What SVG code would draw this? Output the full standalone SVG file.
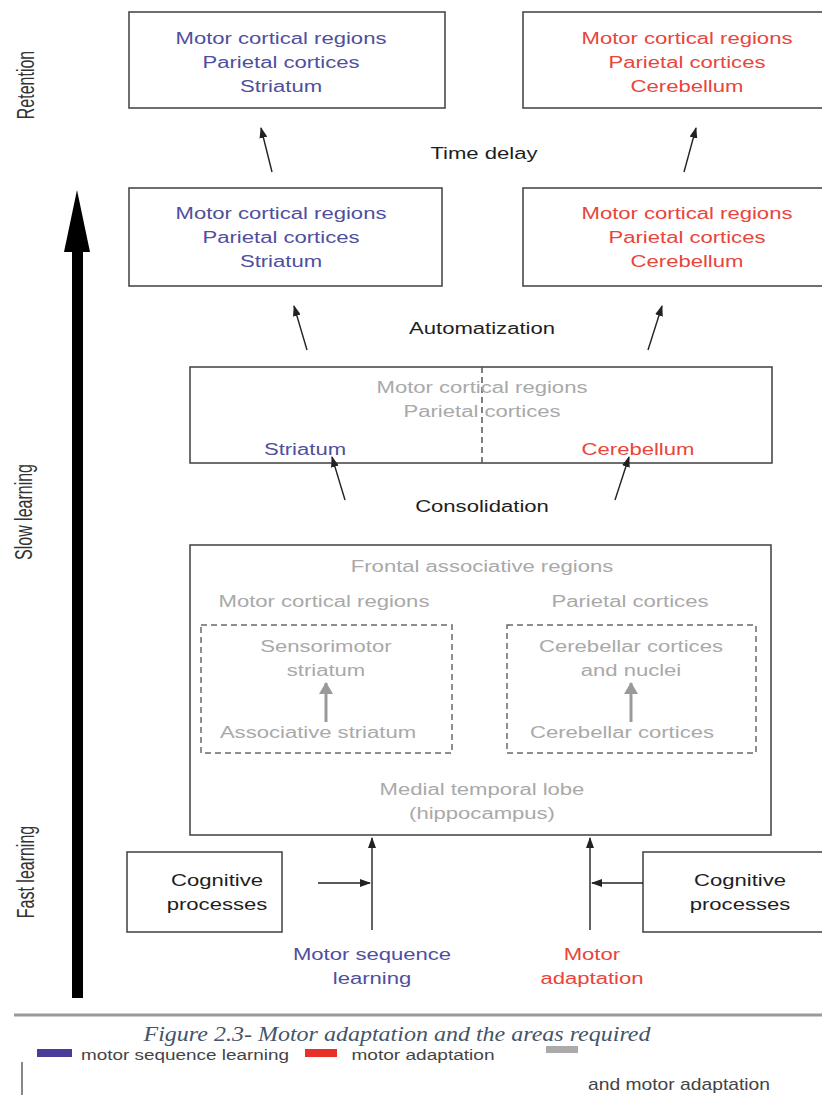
<svg xmlns="http://www.w3.org/2000/svg" width="822" height="1095" viewBox="0 0 822 1095">
<style>
text{font-family:"Liberation Sans",Arial,sans-serif;font-size:16px;text-anchor:middle}
.s{transform-box:fill-box;transform-origin:center;transform:scaleX(1.38)}
.b{fill:#4f4f9e}
.r{fill:#e8453c}
.g{fill:#a9a9a9}
.k{fill:#1e1e1e}
.side{fill:#333;font-size:16px}
.leg{fill:#444;font-size:14px}
.box{fill:#fff;stroke:#4a4a4a;stroke-width:1.6}
.dbox{fill:none;stroke:#6a6a6a;stroke-width:1.5;stroke-dasharray:6 4}
.con{stroke:#222;stroke-width:1.4;fill:none;marker-end:url(#ah)}
.gcon{stroke:#9a9a9a;stroke-width:3;fill:none;marker-end:url(#gh)}
</style>
<defs>
<marker id="ah" markerUnits="userSpaceOnUse" markerWidth="11" markerHeight="8" refX="10" refY="4" orient="auto"><path d="M0,0 L11,4 L0,8 Z" fill="#222"/></marker>
<marker id="gh" markerUnits="userSpaceOnUse" markerWidth="12" markerHeight="14" refX="11" refY="7" orient="auto"><path d="M0,0 L12,7 L0,14 Z" fill="#9a9a9a"/></marker>
</defs>
<rect width="822" height="1095" fill="#fff"/>

<!-- side labels -->
<g id="axis">
<rect x="72" y="250" width="11" height="748" fill="#000"/>
<polygon points="64,252 77,190 90,252" fill="#000"/>
<text class="side" transform="translate(34,85) rotate(-90) scale(1,1.5)">Retention</text>
<text class="side" transform="translate(32,512) rotate(-90) scale(1,1.5)">Slow learning</text>
<text class="side" transform="translate(34,872) rotate(-90) scale(1,1.5)">Fast learning</text>
</g>

<g id="ret-seq">
<rect class="box" x="129" y="12" width="316" height="96"/>
<text class="s b" x="281" y="44">Motor cortical regions</text>
<text class="s b" x="281" y="68">Parietal cortices</text>
<text class="s b" x="281" y="92">Striatum</text>
</g>
<g id="ret-adapt">
<rect class="box" x="523" y="12" width="320" height="96"/>
<text class="s r" x="687" y="44">Motor cortical regions</text>
<text class="s r" x="687" y="68">Parietal cortices</text>
<text class="s r" x="687" y="92">Cerebellum</text>
</g>

<g id="auto-seq">
<rect class="box" x="129" y="188" width="313" height="98"/>
<text class="s b" x="281" y="219">Motor cortical regions</text>
<text class="s b" x="281" y="243">Parietal cortices</text>
<text class="s b" x="281" y="267">Striatum</text>
</g>
<g id="auto-adapt">
<rect class="box" x="523" y="188" width="320" height="98"/>
<text class="s r" x="687" y="219">Motor cortical regions</text>
<text class="s r" x="687" y="243">Parietal cortices</text>
<text class="s r" x="687" y="267">Cerebellum</text>
</g>

<g id="consolidated">
<rect class="box" x="190" y="367" width="582" height="96"/>
<line x1="482" y1="367" x2="482" y2="463" stroke="#555" stroke-width="1.5" stroke-dasharray="6 4"/>
<text class="s g" x="482" y="393">Motor cortical regions</text>
<text class="s g" x="482" y="417">Parietal cortices</text>
<text class="s b" x="305" y="455">Striatum</text>
<text class="s r" x="638" y="455">Cerebellum</text>
</g>

<g id="fast">
<rect class="box" x="190" y="545" width="581" height="290"/>
<text class="s g" x="482" y="572">Frontal associative regions</text>
<text class="s g" x="324" y="607">Motor cortical regions</text>
<text class="s g" x="630" y="607">Parietal cortices</text>
<text class="s g" x="482" y="795">Medial temporal lobe</text>
<text class="s g" x="482" y="819">(hippocampus)</text>
</g>
<g id="striatum-box">
<rect class="dbox" x="201" y="625" width="251" height="128"/>
<text class="s g" x="326" y="652">Sensorimotor</text>
<text class="s g" x="326" y="676">striatum</text>
<text class="s g" x="318" y="738">Associative striatum</text>
</g>
<g id="cerebellum-box">
<rect class="dbox" x="507" y="625" width="249" height="128"/>
<text class="s g" x="631" y="652">Cerebellar cortices</text>
<text class="s g" x="631" y="676">and nuclei</text>
<text class="s g" x="622" y="738">Cerebellar cortices</text>
</g>

<g id="cog-left">
<rect class="box" x="127" y="852" width="155" height="80"/>
<text class="s k" x="217" y="886">Cognitive</text>
<text class="s k" x="217" y="910">processes</text>
</g>
<g id="cog-right">
<rect class="box" x="643" y="852" width="200" height="80"/>
<text class="s k" x="740" y="886">Cognitive</text>
<text class="s k" x="740" y="910">processes</text>
</g>

<g id="inputs">
<text class="s b" x="372" y="960">Motor sequence</text>
<text class="s b" x="372" y="984">learning</text>
<text class="s r" x="592" y="960">Motor</text>
<text class="s r" x="592" y="984">adaptation</text>
</g>

<g id="stage-labels">
<text class="s k" x="484" y="159">Time delay</text>
<text class="s k" x="482" y="334">Automatization</text>
<text class="s k" x="482" y="512">Consolidation</text>
</g>

<g id="connectors">
<line class="con" x1="272" y1="172" x2="261" y2="128"/>
<line class="con" x1="684" y1="172" x2="696" y2="128"/>
<line class="con" x1="307" y1="350" x2="294" y2="306"/>
<line class="con" x1="648" y1="350" x2="662" y2="306"/>
<line class="con" x1="345" y1="500" x2="332" y2="457"/>
<line class="con" x1="615" y1="500" x2="629" y2="457"/>
<line class="con" x1="372" y1="930" x2="372" y2="838"/>
<line class="con" x1="590" y1="930" x2="590" y2="838"/>
<line class="con" x1="318" y1="883" x2="370" y2="883"/>
<line class="con" x1="643" y1="883" x2="592" y2="883"/>
<line class="gcon" x1="326" y1="722" x2="326" y2="683"/>
<line class="gcon" x1="631" y1="722" x2="631" y2="683"/>
</g>

<g id="caption">
<line x1="14" y1="1015" x2="822" y2="1015" stroke="#9a9a9a" stroke-width="3"/>
<text x="397" y="1041" style="font-family:'Liberation Serif','Times New Roman',serif;font-style:italic;font-size:22px;fill:#44546a" textLength="507" lengthAdjust="spacingAndGlyphs">Figure 2.3- Motor adaptation and the areas required</text>
</g>

<g id="legend">
<line x1="22" y1="1062" x2="22" y2="1095" stroke="#888" stroke-width="2"/>
<rect x="37" y="1049" width="35" height="8" fill="#4a3a9a"/>
<text class="leg" x="185" y="1060" textLength="208" lengthAdjust="spacingAndGlyphs">motor sequence learning</text>
<rect x="305" y="1049" width="32" height="8" fill="#e8302a"/>
<text class="leg" x="423" y="1060" textLength="143" lengthAdjust="spacingAndGlyphs">motor adaptation</text>
<rect x="546" y="1046" width="32" height="7" fill="#aaa"/>
<text class="leg" x="679" y="1090" style="font-size:17px" textLength="182" lengthAdjust="spacingAndGlyphs">and motor adaptation</text>
</g>
</svg>
